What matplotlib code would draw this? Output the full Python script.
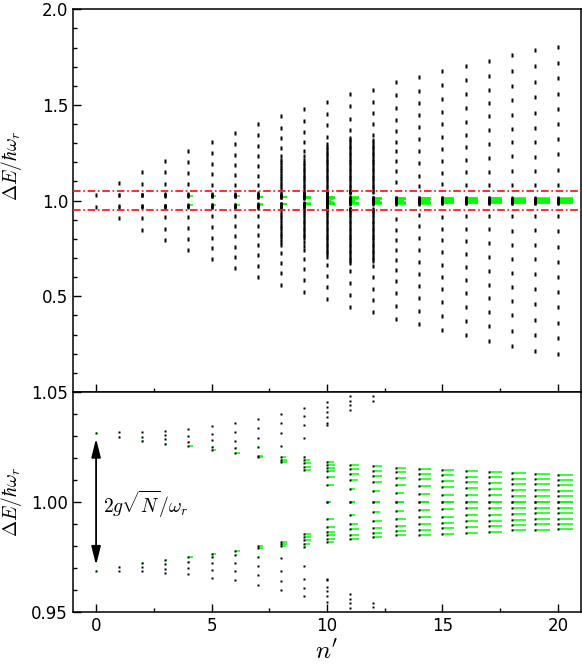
import numpy as np
import matplotlib
matplotlib.use("Agg")
import matplotlib.pyplot as plt
from matplotlib.ticker import MultipleLocator, FormatStrFormatter
from matplotlib.path import Path

plt.rcParams['mathtext.fontset'] = 'cm'
plt.rcParams['font.family'] = ['DejaVu Sans']

# excitation number n'
n_prime = list(range(21))

# line offsets above 1.0 (spectrum is mirrored about 1.0), far from resonance
upper_far = [
    [],
    [0.09],
    [0.089, 0.152],
    [0.088, 0.15, 0.208],
    [0.086, 0.145, 0.2, 0.26],
    [0.082, 0.137, 0.193, 0.249, 0.306],
    [0.082, 0.135, 0.187, 0.241, 0.297, 0.354],
    [0.082, 0.13, 0.182, 0.232, 0.284, 0.341, 0.4],
    [0.06, 0.074, 0.088, 0.102, 0.116, 0.13, 0.144, 0.158, 0.172, 0.186, 0.2,
     0.214, 0.232, 0.275, 0.327, 0.38, 0.44],
    [0.052, 0.064, 0.076, 0.088, 0.1, 0.112, 0.124, 0.136, 0.148, 0.16, 0.172,
     0.184, 0.196, 0.214, 0.235, 0.257, 0.306, 0.358, 0.417, 0.478],
    [0.052, 0.064, 0.076, 0.088, 0.1, 0.112, 0.124, 0.136, 0.148, 0.16, 0.172,
     0.184, 0.196, 0.208, 0.22, 0.232, 0.244, 0.256, 0.268, 0.28, 0.295,
     0.335, 0.393, 0.452, 0.515],
    [0.052, 0.064, 0.076, 0.088, 0.1, 0.112, 0.124, 0.136, 0.148, 0.16, 0.172,
     0.184, 0.196, 0.208, 0.22, 0.232, 0.244, 0.256, 0.268, 0.28, 0.292,
     0.304, 0.316, 0.328, 0.37, 0.428, 0.492, 0.555],
    [0.052, 0.064, 0.076, 0.088, 0.1, 0.112, 0.124, 0.136, 0.148, 0.16, 0.172,
     0.184, 0.196, 0.208, 0.22, 0.232, 0.244, 0.256, 0.268, 0.28, 0.292,
     0.304, 0.316, 0.344, 0.4, 0.46, 0.518, 0.58],
    [0.095, 0.155, 0.205, 0.257, 0.309, 0.362, 0.42, 0.483, 0.55, 0.619],
    [0.074, 0.13, 0.195, 0.26, 0.32, 0.385, 0.445, 0.51, 0.575, 0.645],
    [0.085, 0.147, 0.208, 0.27, 0.335, 0.4, 0.463, 0.532, 0.603, 0.677],
    [0.082, 0.148, 0.213, 0.278, 0.345, 0.413, 0.485, 0.557, 0.63, 0.704],
    [0.082, 0.15, 0.224, 0.296, 0.37, 0.44, 0.51, 0.58, 0.654, 0.732],
    [0.082, 0.157, 0.232, 0.305, 0.376, 0.45, 0.524, 0.6, 0.68, 0.759],
    [0.082, 0.155, 0.23, 0.306, 0.382, 0.46, 0.542, 0.622, 0.702, 0.785],
    [0.081, 0.159, 0.243, 0.321, 0.399, 0.477, 0.558, 0.639, 0.72, 0.803],
]

# offsets within +-0.05 of resonance (lower panel)
upper_near = [
    [0.0315],
    [0.0297, 0.0317],
    [0.0277, 0.0297, 0.0317],
    [0.0265, 0.0285, 0.0305, 0.0323],
    [0.0252, 0.0272, 0.030, 0.033],
    [0.0236, 0.025, 0.028, 0.031, 0.0345],
    [0.0222, 0.0243, 0.0277, 0.0316, 0.0358],
    [0.0202, 0.0208, 0.0249, 0.0291, 0.0335, 0.0379],
    [0.0182, 0.0192, 0.0202, 0.0256, 0.0315, 0.0359, 0.0401],
    [0.0145, 0.016, 0.0176, 0.0191, 0.0206, 0.0291, 0.035, 0.0392, 0.0427],
    [0.0, 0.0077, 0.0115, 0.0138, 0.0153, 0.0168, 0.0183,
     0.035, 0.0358, 0.0388, 0.0408, 0.043, 0.0456],
    [0.0, 0.0058, 0.010, 0.0126, 0.0149, 0.0168, 0.0418, 0.0441, 0.046, 0.0482],
    [0.0, 0.0047, 0.0088, 0.0117, 0.0142, 0.0161, 0.046, 0.048],
    [0.0, 0.004, 0.0077, 0.0108, 0.0135, 0.0153],
    [0.0, 0.0036, 0.0071, 0.0102, 0.0127, 0.015],
    [0.0, 0.0033, 0.0067, 0.0095, 0.0121, 0.0146],
    [0.0, 0.003, 0.0062, 0.0089, 0.0115, 0.0141],
    [0.0, 0.0029, 0.0059, 0.0086, 0.0112, 0.0136],
    [0.0, 0.0027, 0.0055, 0.0082, 0.0106, 0.013],
    [0.0, 0.0026, 0.0053, 0.0079, 0.0103, 0.0127],
    [0.0, 0.0026, 0.005, 0.0076, 0.01, 0.0123],
]

# transition strength bars (length in n' units), one per near line
green_len = [
    [0.03],
    [0.03, 0],
    [0.06, 0, 0],
    [0.07, 0.03, 0, 0],
    [0.19, 0.05, 0, 0],
    [0.19, 0.1, 0, 0, 0],
    [0.22, 0.12, 0, 0, 0],
    [0.22, 0.22, 0.05, 0, 0, 0],
    [0.26, 0.26, 0.22, 0, 0, 0, 0],
    [0.32, 0.32, 0.3, 0.28, 0.1, 0, 0, 0, 0],
    [0.19, 0.3, 0.33, 0.33, 0.33, 0.33, 0.3, 0, 0, 0, 0, 0, 0],
    [0.23, 0.23, 0.36, 0.38, 0.38, 0.38, 0, 0, 0, 0],
    [0.29, 0.29, 0.38, 0.4, 0.4, 0.4, 0, 0],
    [0.32, 0.35, 0.43, 0.43, 0.43, 0.43],
    [0.4, 0.45, 0.49, 0.49, 0.49, 0.49],
    [0.5, 0.5, 0.5, 0.5, 0.5, 0.5],
    [0.52, 0.52, 0.52, 0.52, 0.52, 0.52],
    [0.59, 0.59, 0.59, 0.59, 0.59, 0.59],
    [0.62, 0.62, 0.62, 0.62, 0.62, 0.62],
    [0.64, 0.64, 0.64, 0.64, 0.64, 0.64],
    [0.67, 0.67, 0.67, 0.67, 0.67, 0.67],
]

dash = Path([(-0.26, -0.5), (0.26, -0.5), (0.26, 0.5), (-0.26, 0.5), (-0.26, -0.5)],
            [Path.MOVETO, Path.LINETO, Path.LINETO, Path.LINETO, Path.CLOSEPOLY])

fig = plt.figure(figsize=(5.82, 6.69), dpi=100)
ax1 = fig.add_axes([0.1254, 0.4141, 0.8729, 0.572])
ax2 = fig.add_axes([0.1254, 0.0857, 0.8729, 0.3284])


def draw(ax, marker, ms, glw):
    for n, far, near, gl in zip(n_prime, upper_far, upper_near, green_len):
        for off, L in zip(near, gl):
            if L > 0:
                ax.hlines([1 + off, 1 - off], n, n + L, color='#00ff00', lw=glw, zorder=2)
        offs = np.array(far + near)
        y = np.concatenate([1 + offs, 1 - offs])
        ax.plot(np.full_like(y, n), y, ls='none', marker=marker, ms=ms,
                mfc='k', mec='none', zorder=3)


draw(ax1, dash, 3.2, 1.1)
draw(ax2, 's', 1.8, 1.1)

for yv in (1.05, 0.95):
    ax1.axhline(yv, color='#ff1a1a', lw=1.3, dashes=(4.2, 1.5, 0.9, 1.5), zorder=4)

ax2.annotate('', xy=(0, 0.9712), xytext=(0, 1.0288),
             arrowprops=dict(arrowstyle='<|-|>,head_length=0.8,head_width=0.2',
                             color='k', lw=1.3, mutation_scale=14,
                             shrinkA=0, shrinkB=0))
ax2.text(0.3, 0.9986, r'$2g\sqrt{N}/\omega_r$', fontsize=14, va='center')

for ax in (ax1, ax2):
    ax.set_xlim(-1, 21)
    ax.xaxis.set_major_locator(MultipleLocator(5))
    ax.xaxis.set_minor_locator(MultipleLocator(2.5))
    ax.tick_params(which='both', direction='in', top=False, right=False,
                   labelsize=12, width=1)
    ax.tick_params(which='major', length=6)
    ax.tick_params(which='minor', length=3)
    for s in ax.spines.values():
        s.set_linewidth(1.1)
    ax.set_ylabel(r'$\Delta E/\hbar\omega_r$', fontsize=14, va='center')

ax1.set_ylim(0, 2.0)
ax1.set_yticks([0.5, 1.0, 1.5, 2.0])
ax1.yaxis.set_minor_locator(MultipleLocator(0.1))
ax1.yaxis.set_major_formatter(FormatStrFormatter('%.1f'))
ax1.tick_params(labelbottom=False)
ax1.yaxis.set_label_coords(-0.122, 0.59)

ax2.set_ylim(0.95, 1.05)
ax2.set_yticks([0.95, 1.0, 1.05])
ax2.yaxis.set_minor_locator(MultipleLocator(0.01))
ax2.yaxis.set_major_formatter(FormatStrFormatter('%.2f'))
ax2.yaxis.set_label_coords(-0.122, 0.5)
ax2.set_xlabel(r"$n'$", fontsize=18, labelpad=4)

fig.savefig('out.png', dpi=100)
